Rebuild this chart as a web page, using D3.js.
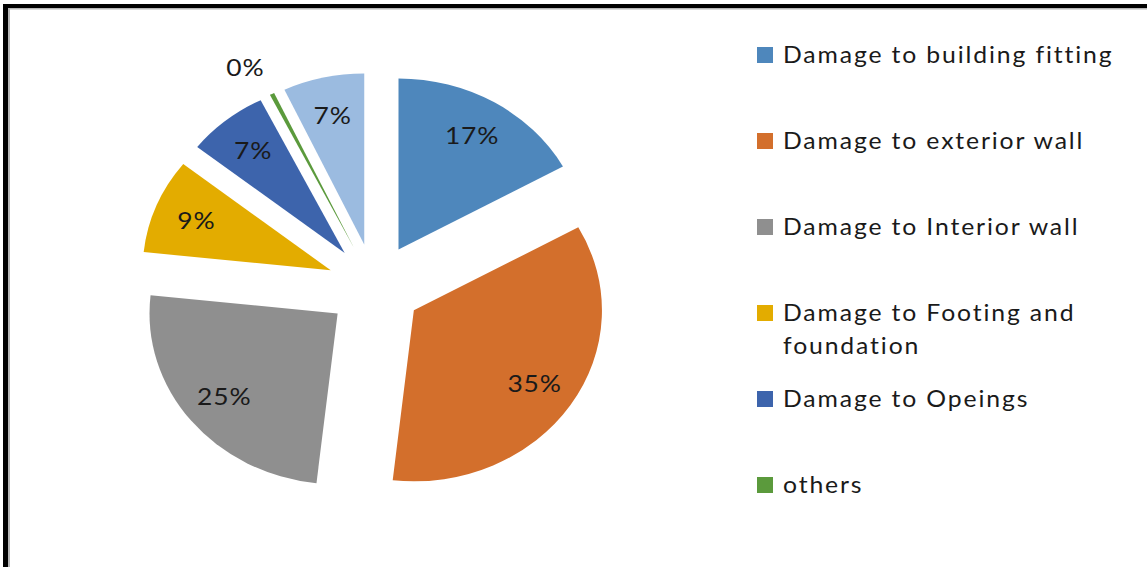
<!DOCTYPE html>
<html>
<head>
<meta charset="utf-8">
<script src="https://cdn.jsdelivr.net/npm/d3@7"></script>
<style>
  html, body { margin: 0; padding: 0; background: #fff; }
  svg { display: block; }
</style>
</head>
<body>
<svg id="chart" width="1147" height="567"></svg>
<script>
// ---- data ----
const categories = [
  "Damage to building fitting",
  "Damage to exterior wall",
  "Damage to Interior wall",
  "Damage to Footing and foundation",
  "Damage to Opeings",
  "others",
  ""
];
const values = [17, 35, 25, 9, 7, 0.4, 7];
const sliceColors = ["#4E87BC", "#D36F2C", "#8F8F8F", "#E3AC00", "#3D64AC", "#5B9A3C", "#9BBBE0"];

// ---- layout ----
const W = 1147, H = 567;
const svg = d3.select("#chart");
const cx = 374.5, cy = 286.5, R = 171, explode = 43, sx = 1.1;
const labelDist = 132, outsideLabelDist = 206;
const fontFamily = "Lato, 'Open Sans', sans-serif";

// frame
svg.append("rect").attr("x", 0).attr("y", 0).attr("width", W).attr("height", H).attr("fill", "#fff");
svg.append("rect").attr("x", 3).attr("y", 4).attr("width", W - 3).attr("height", 4).attr("fill", "#000");
svg.append("rect").attr("x", 3).attr("y", 4).attr("width", 5).attr("height", H - 4).attr("fill", "#000");
svg.append("rect").attr("x", 8).attr("y", 8).attr("width", W - 8).attr("height", 1.5).attr("fill", "#b5b5b5");
svg.append("rect").attr("x", 8).attr("y", 8).attr("width", 2).attr("height", H - 8).attr("fill", "#b5b5b5");

const total = d3.sum(values);
const pie = d3.pie().sort(null).value(d => d).startAngle(0).endAngle(2 * Math.PI);
const arcs = pie(values);
const arc = d3.arc().innerRadius(0).outerRadius(R);

const pieG = svg.append("g").attr("transform", `translate(${cx},${cy}) scale(${sx},1)`);
pieG.selectAll("path")
  .data(arcs)
  .join("path")
  .attr("d", arc)
  .attr("fill", (d, i) => sliceColors[i])
  .attr("transform", d => {
    const m = (d.startAngle + d.endAngle) / 2;
    return `translate(${explode * Math.sin(m)},${-explode * Math.cos(m)})`;
  });

// labels
const labelG = svg.append("g");
arcs.forEach((d, i) => {
  const inside = values[i] / total > 0.02;
  const m = (d.startAngle + d.endAngle) / 2 - (inside ? 0 : 0.04);
  const pct = Math.round(values[i] / total * 100);
  const r = explode + (inside ? labelDist : outsideLabelDist);
  const x = cx + sx * r * Math.sin(m);
  const y = cy - r * Math.cos(m);
  labelG.append("text")
    .attr("transform", `translate(${x},${y}) scale(${sx},1)`)
    .attr("text-anchor", "middle")
    .attr("dy", "0.36em")
    .attr("font-family", fontFamily)
    .attr("font-size", 24)
    .attr("letter-spacing", 0.8)
    .attr("fill", "#1a1a1a")
    .text(pct + "%");
});

// legend
const legendX = 757, legendTop = 47, legendStep = 86, sw = 16;
const textX = 783, wrapWidth = 345;
const legendG = svg.append("g");
categories.forEach((name, i) => {
  if (!name) return;
  const y0 = legendTop + i * legendStep;
  legendG.append("rect")
    .attr("x", legendX).attr("y", y0).attr("width", sw).attr("height", sw)
    .attr("fill", sliceColors[i]);
  const t = legendG.append("text")
    .attr("transform", `translate(${textX},${y0 + 16}) scale(${sx},1)`)
    .attr("font-family", fontFamily)
    .attr("font-size", 22.5)
    .attr("letter-spacing", 1.7)
    .attr("fill", "#1a1a1a");
  // simple word wrap
  const words = name.split(" ");
  let line = [];
  let lineNo = 0;
  let tspan = t.append("tspan").attr("x", 0).attr("y", 0);
  words.forEach(w => {
    line.push(w);
    tspan.text(line.join(" "));
    if (tspan.node().getComputedTextLength() * sx > wrapWidth && line.length > 1) {
      line.pop();
      tspan.text(line.join(" "));
      line = [w];
      lineNo++;
      tspan = t.append("tspan").attr("x", 0).attr("y", lineNo * 33).text(w);
    }
  });
});
</script>
</body>
</html>
